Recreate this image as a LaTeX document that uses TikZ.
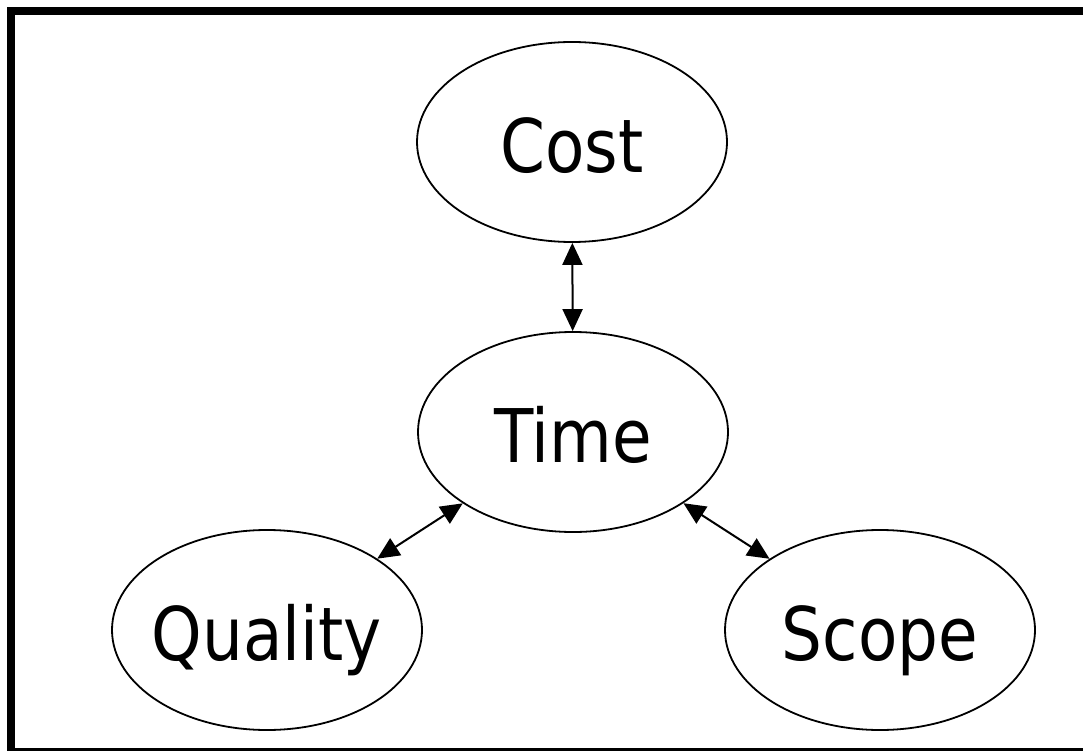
\documentclass[tikz,border=0pt]{standalone}
\usepackage{fontspec}
\setmainfont{DejaVu Sans}[FakeStretch=0.87]
\usetikzlibrary{shapes.geometric,arrows.meta}
\begin{document}
\begin{tikzpicture}[x=1pt,y=-1pt]
\tikzset{constraint/.style = {shape=ellipse,draw,line width=1.8pt,minimum width=310pt,minimum height=200pt,inner sep=0pt,text height=61pt,text depth=0pt,font=\fontsize{74}{80}\selectfont}}
\tikzset{link/.style = {<->,line width=2pt,>={Triangle[length=22pt,width=20pt]}}}
\clip (0,0) rectangle (1083,751);
\fill[white] (0,0) rectangle (1083,751);
% outer frame
\draw[line width=8pt] (11,11) rectangle (1095,752);
% top of the triangle
\node[constraint] (cost) at (572,142) {\makebox[0pt]{Cost}};
\node[constraint] (time) at (573,432) {\makebox[0pt]{Time}};
% bottom corners
\node[constraint] (quality) at (267,630) {\makebox[0pt]{Quality}};
\node[constraint] (scope) at (880,630) {\makebox[0pt]{Scope}};
% links to time
\draw[link] (cost) to (time);
\draw[link] (time) to (quality);
\draw[link] (time) to (scope);
\end{tikzpicture}
\end{document}
